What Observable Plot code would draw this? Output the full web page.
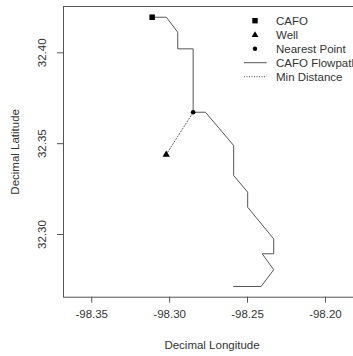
<!DOCTYPE html>
<html>
<head>
<meta charset="utf-8">
<script src="https://cdn.jsdelivr.net/npm/d3@7"></script>
<script src="https://cdn.jsdelivr.net/npm/@observablehq/plot@0.6"></script>
<style>
  html, body { margin: 0; padding: 0; background: white; overflow: hidden; }
</style>
</head>
<body>
<div id="chart"></div>
<script>
// Data
const flowLon = [-98.3112, -98.3021, -98.2948, -98.2948, -98.2849, -98.2849, -98.2770, -98.2589, -98.2589, -98.2499, -98.2499, -98.2332, -98.2332, -98.2406, -98.2332, -98.2413, -98.2589];
const flowLat = [32.4196, 32.4196, 32.4113, 32.4022, 32.4022, 32.3673, 32.3673, 32.3490, 32.3325, 32.3233, 32.3150, 32.2976, 32.2894, 32.2894, 32.2806, 32.2714, 32.2714];
const cafo = {lon: -98.3112, lat: 32.4196};
const well = {lon: -98.3022, lat: 32.3440};
const nearest = {lon: -98.2849, lat: 32.3673};
const xTicks = [-98.35, -98.30, -98.25, -98.20];
const yTicks = [32.30, 32.35, 32.40];
const legendLabels = ["CAFO", "Well", "Nearest Point", "CAFO Flowpath", "Min Distance"];
const xLabel = "Decimal Longitude";
const yLabel = "Decimal Latitude";

const flow = flowLon.map((lon, i) => ({lon, lat: flowLat[i]}));
const minDist = [well, nearest];

const ink = "#333";
const lineCol = "#555";
const fontSize = "11.5px";

function legendMark(index, scales, values, dims) {
  const g = d3.create("svg:g");
  const x0 = dims.marginLeft;
  const y0 = dims.marginTop;
  const symX = x0 + 192, txtX = x0 + 213;
  const rowY = i => y0 + 14.7 + i * 14;
  // square
  g.append("rect").attr("x", symX - 2.7).attr("y", rowY(0) - 2.7).attr("width", 5.4).attr("height", 5.4).attr("fill", "#000");
  // triangle
  const ty = rowY(1);
  g.append("path").attr("d", `M${symX},${ty - 3.4}L${symX + 3.4},${ty + 2.4}L${symX - 3.4},${ty + 2.4}Z`).attr("fill", "#000");
  // dot
  g.append("circle").attr("cx", symX).attr("cy", rowY(2)).attr("r", 2.2).attr("fill", "#000");
  // lines
  g.append("line").attr("x1", x0 + 181).attr("x2", x0 + 203.7).attr("y1", rowY(3)).attr("y2", rowY(3)).attr("stroke", lineCol);
  g.append("line").attr("x1", x0 + 181).attr("x2", x0 + 203.7).attr("y1", rowY(4)).attr("y2", rowY(4)).attr("stroke", lineCol).attr("stroke-dasharray", "1,1.5");
  legendLabels.forEach((t, i) => {
    g.append("text").attr("x", txtX).attr("y", rowY(i)).attr("dy", "0.36em")
      .attr("text-anchor", "start")
      .attr("fill", ink).attr("font-size", fontSize).text(t);
  });
  return g.node();
}

const chart = Plot.plot({
  width: 353,
  height: 356,
  marginLeft: 63,
  marginRight: -7,
  marginTop: 6,
  marginBottom: 59.3,
  style: {fontFamily: "'Liberation Sans', Arial, sans-serif", fontSize: fontSize, color: ink, background: "white"},
  x: {domain: [-98.3681, -98.1775]},
  y: {domain: [32.2655, 32.4255]},
  marks: [
    Plot.frame({stroke: lineCol, strokeWidth: 1}),
    Plot.axisX({ticks: xTicks, tickSize: 6, tickPadding: 7, tickFormat: d => d.toFixed(2), label: null, stroke: lineCol, fill: ink, fontSize: 11.5}),
    Plot.axisY({ticks: yTicks, tickSize: 6, tickFormat: () => "", label: null, stroke: lineCol}),
    Plot.text(yTicks, {y: d => d, text: d => d.toFixed(2), frameAnchor: "left", dx: -21.3, rotate: -90, textAnchor: "middle", lineAnchor: "middle", fill: ink}),
    Plot.text([xLabel], {text: d => d, frameAnchor: "bottom", dy: 48.3, lineAnchor: "middle", fill: ink}),
    Plot.text([yLabel], {text: d => d, frameAnchor: "left", dx: -48, rotate: -90, textAnchor: "middle", lineAnchor: "middle", fill: ink}),
    Plot.line(flow, {x: "lon", y: "lat", stroke: lineCol, strokeWidth: 1}),
    Plot.line(minDist, {x: "lon", y: "lat", stroke: lineCol, strokeWidth: 1, strokeDasharray: "1,2"}),
    Plot.dot([cafo], {x: "lon", y: "lat", symbol: "square", r: 3.1, fill: "#000", stroke: "none"}),
    Plot.dot([well], {x: "lon", y: "lat", symbol: "triangle", r: 2.7, fill: "#000", stroke: "none"}),
    Plot.dot([nearest], {x: "lon", y: "lat", r: 2.3, fill: "#000", stroke: "none"}),
    legendMark
  ]
});
document.getElementById("chart").appendChild(chart);
</script>
</body>
</html>
